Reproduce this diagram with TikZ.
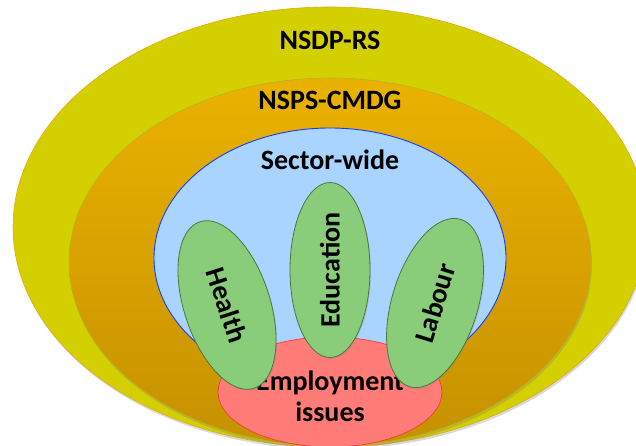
\documentclass[tikz,border=0pt]{standalone}
\usepackage{fontspec}
\setmainfont{Carlito}
\usepackage{tikz}
\usetikzlibrary{shapes.geometric}
\usetikzlibrary{shadows}

\definecolor{plainYellow}{RGB}{212,208,0}
\definecolor{plainYellowLine}{RGB}{222,170,20}
\definecolor{strategyTop}{RGB}{234,178,0}
\definecolor{strategyBottom}{RGB}{198,145,0}
\definecolor{strategyLine}{RGB}{190,175,40}
\definecolor{sectorFill}{RGB}{168,212,255}
\definecolor{sectorLine}{RGB}{20,60,255}
\definecolor{topicFill}{RGB}{137,205,122}
\definecolor{topicLine}{RGB}{75,120,60}
\definecolor{issueFill}{RGB}{255,124,120}
\definecolor{issueLine}{RGB}{245,60,50}

\begin{document}
\begin{tikzpicture}[x=1pt, y=-1pt,%
	base/.style={ellipse, inner sep=0pt, outer sep=0pt},
	ring/.style={base, line width=0.6pt,
		drop shadow={shadow xshift=1pt, shadow yshift=-2.5pt, opacity=0.3}},
	topic/.style={base, draw=topicLine, fill=topicFill, line width=0.8pt,
		minimum width=175pt, minimum height=86pt, font=\bigbold,
		drop shadow={shadow xshift=1pt, shadow yshift=-1.5pt, opacity=0.25}},
	title/.style={inner sep=0pt, anchor=base, font=\bigbold}%
	]
	\providecommand\bigbold{\fontsize{28}{31}\selectfont\bfseries}
	\useasboundingbox (0,0) rectangle (636,446);
	\clip (0,0) rectangle (636,446);
	%
	% Nodes
	%
	\node[ring, draw=plainYellowLine, fill=plainYellow, minimum width=634pt,
		minimum height=440pt] (NSDP) at (330,227) {};
	\node[ring, draw=strategyLine, top color=strategyTop, bottom color=strategyBottom,
		minimum width=522pt, minimum height=368pt] (NSPS) at (330,262) {};
	\node[base, draw=sectorLine, fill=sectorFill, line width=0.9pt, minimum width=352pt,
		minimum height=260pt] (SECTOR) at (330,258) {};
	\node[base, draw=issueLine, fill=issueFill, line width=0.7pt, minimum width=224pt,
		minimum height=110pt] (ISSUES) at (330,392) {};
	\node[title, align=center, font=\fontsize{28}{31}\selectfont\bfseries]
		(ISSUESTEXT) at (330,421) {Employment\\ issues};
	\node[topic, rotate=90, minimum height=80pt] (EDUCATION) at (330,270) {Education};
	\node[topic, rotate=-72] (HEALTH) at (227,305) {Health};
	\node[topic, rotate=73] (LABOUR) at (435,303) {Labour};
	\node[title] (NSDPTEXT) at (330,50) {NSDP-RS};
	\node[title] (NSPSTEXT) at (330,110) {NSPS-CMDG};
	\node[title] (SECTORTEXT) at (330,170) {Sector-wide};
\end{tikzpicture}
\end{document}
